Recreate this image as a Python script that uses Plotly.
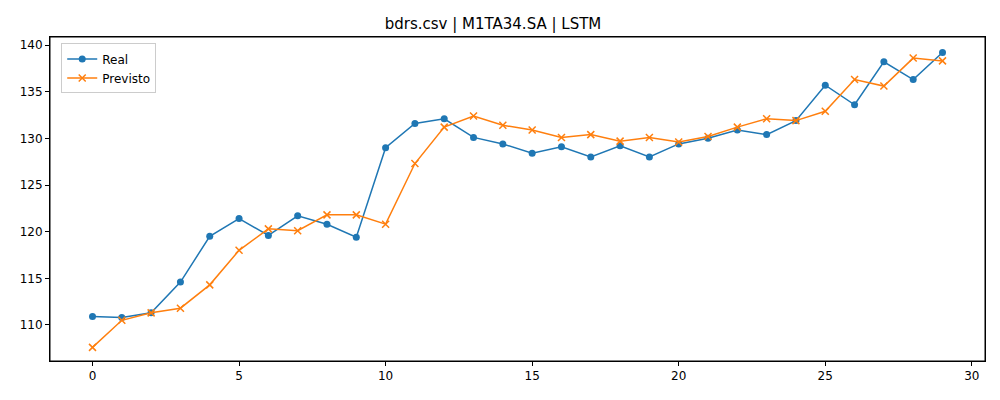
import plotly.graph_objects as go

x = list(range(30))
real = [110.9,110.8,111.3,114.6,119.5,121.4,119.6,121.7,120.8,119.4,129.0,131.6,132.1,130.1,129.4,128.4,129.1,128.0,129.2,128.0,129.4,130.0,130.9,130.4,131.9,135.7,133.6,138.2,136.3,139.2]
prev = [107.6,110.5,111.3,111.8,114.3,118.0,120.3,120.1,121.8,121.8,120.8,127.3,131.2,132.4,131.4,130.9,130.1,130.4,129.7,130.1,129.6,130.2,131.2,132.1,131.9,132.9,136.3,135.6,138.6,138.3]

fig = go.Figure()
fig.add_trace(go.Scatter(x=x, y=real, name="Real", mode="lines+markers",
    line=dict(color="#1f77b4", width=1.5), marker=dict(symbol="circle", size=7)))
fig.add_trace(go.Scatter(x=x, y=prev, name="Previsto", mode="lines+markers",
    line=dict(color="#ff7f0e", width=1.5), marker=dict(symbol="x-thin", size=7, line=dict(width=1.5, color="#ff7f0e"))))
ax = dict(showgrid=False, zeroline=False, showline=True, mirror=True, linecolor="black",
          ticks="outside", ticklen=4, tickcolor="black")
fig.add_shape(type="rect", xref="paper", yref="paper", x0=0, y0=0, x1=1, y1=1,
              line=dict(color="black", width=1))
fig.update_layout(width=1000, height=400, plot_bgcolor="white", paper_bgcolor="white",
    margin=dict(l=37, r=23, t=29, b=47),
    font=dict(family="DejaVu Sans", size=12, color="black"),
    title=dict(text="bdrs.csv | M1TA34.SA | LSTM", x=0.485, xanchor="center", y=0.975, font=dict(size=15)),
    xaxis=dict(range=[-1.45, 30.45], tickvals=[0,5,10,15,20,25,30], **ax),
    yaxis=dict(range=[106.14, 140.86], tickvals=[110,115,120,125,130,135,140], **ax),
    legend=dict(x=0.012, y=0.98, xanchor="left", yanchor="top", bordercolor="#ccc", borderwidth=1, bgcolor="white"))
fig.write_html("out.html")
